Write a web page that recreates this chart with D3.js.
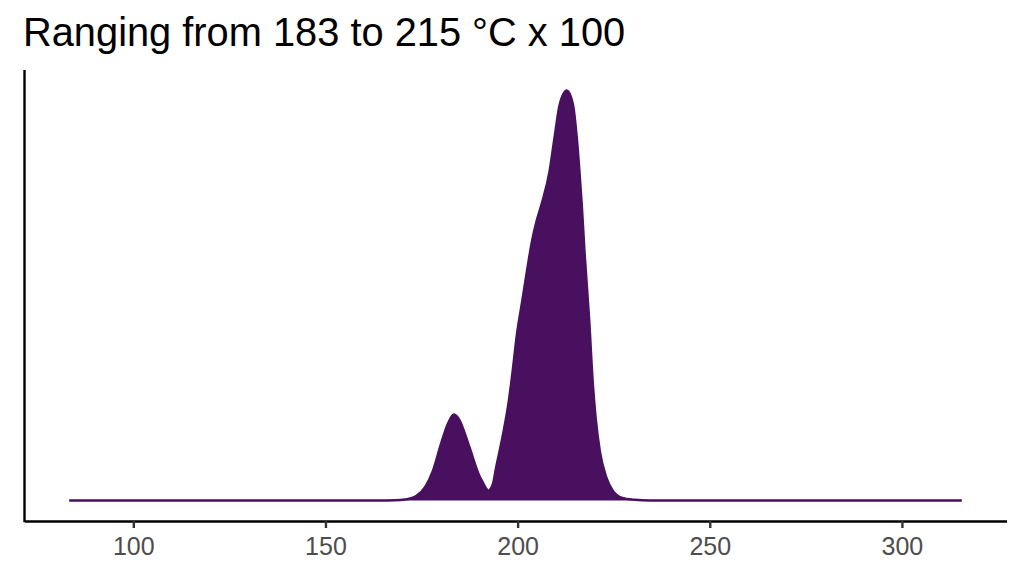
<!DOCTYPE html>
<html>
<head>
<meta charset="utf-8">
<script src="https://cdn.jsdelivr.net/npm/d3@7"></script>
<style>
  body { margin: 0; background: #fff; }
  text { font-family: "Liberation Sans", Arial, sans-serif; }
</style>
</head>
<body>
<div id="chart"></div>
<script>
var titleText = "Ranging from 183 to 215 °C x 100",
    xTicks = [100, 150, 200, 250, 300],
    // temperature (°C) and kernel density
    temps = [83.3, 164.1, 168.0, 170.6, 172.0, 173.6, 176.0, 178.0, 180.0, 182.0, 183.4, 184.9,
             186.0, 187.5, 190.1, 191.0, 191.7, 192.5, 193.0, 193.6, 194.4, 195.3, 196.2, 197.7,
             198.8, 199.8, 201.2, 202.4, 203.8, 204.9, 206.2, 208.3, 209.6, 210.9, 212.8, 214.4,
             215.4, 216.1, 216.7, 217.4, 218.6, 219.6, 220.3, 221.4, 223.1, 224.8, 227.0, 230.5,
             234.4, 315.6],
    density = [0, 0, 0.00004, 0.00014, 0.00027, 0.00061, 0.0019, 0.0041, 0.0076, 0.0106, 0.0117, 0.0109,
               0.0095, 0.0072, 0.0033, 0.0024, 0.0017, 0.0013, 0.0016, 0.0023, 0.0045, 0.0067, 0.0090, 0.0135,
               0.0180, 0.0225, 0.0271, 0.0311, 0.0354, 0.0379, 0.0402, 0.0447, 0.0493, 0.0537, 0.0557, 0.0538,
               0.0493, 0.0447, 0.0402, 0.0339, 0.0248, 0.0157, 0.0113, 0.0067, 0.0031, 0.0013, 0.0004, 0.0001,
               0, 0];

var width = 1024, height = 576,
    margin = { top: 70, right: 17.5, bottom: 55, left: 24.5 },
    fill = "#48105e";

var data = temps.map(function(t, i) { return { t: t, d: density[i] }; });

var svg = d3.select("#chart").append("svg")
    .attr("width", width)
    .attr("height", height);

// ggplot style 5% expansion on both axes
var tExt = d3.extent(temps), tPad = (tExt[1] - tExt[0]) * 0.05;
var dMax = d3.max(density), dPad = dMax * 0.05;

var x = d3.scaleLinear()
    .domain([tExt[0] - tPad, tExt[1] + tPad])
    .range([margin.left, width - margin.right]);

var y = d3.scaleLinear()
    .domain([-dPad, dMax + dPad])
    .range([height - margin.bottom, margin.top]);

svg.append("text")
    .attr("x", 23)
    .attr("y", 46)
    .attr("font-size", 39.8)
    .attr("fill", "#000")
    .text(titleText);

var area = d3.area()
    .x(function(d) { return x(d.t); })
    .y0(y(0))
    .y1(function(d) { return y(d.d); })
    .curve(d3.curveMonotoneX);

var line = d3.line()
    .x(function(d) { return x(d.t); })
    .y(function(d) { return y(d.d); })
    .curve(d3.curveMonotoneX);

svg.append("path")
    .datum(data)
    .attr("d", area)
    .attr("fill", fill);

svg.append("path")
    .datum(data)
    .attr("d", line)
    .attr("fill", "none")
    .attr("stroke", fill)
    .attr("stroke-width", 2.4);

// x axis
var xAxis = svg.append("g")
    .attr("transform", "translate(0," + (height - margin.bottom) + ")")
    .call(d3.axisBottom(x).tickValues(xTicks).tickSize(7).tickPadding(9).tickSizeOuter(0));
xAxis.select(".domain").attr("stroke", "#000").attr("stroke-width", 2.4);
xAxis.selectAll(".tick line").attr("stroke", "#333").attr("stroke-width", 2.4);
xAxis.selectAll(".tick text")
    .attr("font-size", 25)
    .attr("fill", "#4d4d4d")
    .style("font-family", "Liberation Sans, Arial, sans-serif");

// y axis line only
svg.append("line")
    .attr("x1", margin.left).attr("x2", margin.left)
    .attr("y1", margin.top).attr("y2", height - margin.bottom + 1.2)
    .attr("stroke", "#000")
    .attr("stroke-width", 2.4);
</script>
</body>
</html>
